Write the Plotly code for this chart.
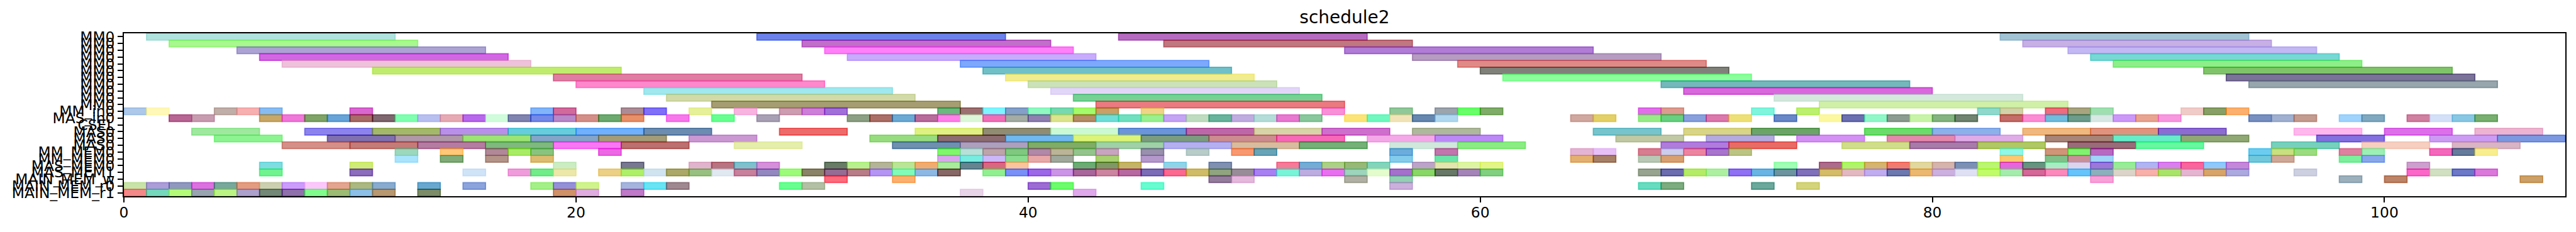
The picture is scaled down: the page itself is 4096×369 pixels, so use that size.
import plotly.graph_objects as go

title_text = "schedule2"
row_labels = ["MM0"] * 11 + ["MM_in0", "MAS_in0", "CSEL", "MAS0", "MAS0", "MAS0",
              "MM_MEM0", "MM_MEM0", "MAS_MEM0", "MAS_MEM1",
              "MAIN_MEM_w", "MAIN_MEM_r0", "MAIN_MEM_r1"]
row_durations = [11] * 11 + [1, 1, 1, 3, 3, 3, 1, 1, 1, 1, 1, 1, 1]
x_ticks = [0, 20, 40, 60, 80, 100]
x_limit = 108

starts_00 = [1, 28, 44, 83]
colors_00 = ["#b0e2de", "#6c82ea", "#b56cc0", "#a2c3d4"]
starts_01 = [2, 30, 46, 84]
colors_01 = ["#a8f78f", "#c070c8", "#c07880", "#c6b0e4"]
starts_02 = [5, 31, 54, 86]
colors_02 = ["#aca3d4", "#ff80f8", "#b07cd6", "#c3b8f4"]
starts_03 = [6, 32, 57, 87]
colors_03 = ["#d168e2", "#c8acfc", "#b59cc0", "#78d8d4"]
starts_04 = [7, 37, 59, 88]
colors_04 = ["#eec2da", "#7ea8fc", "#e08a88", "#8eee8a"]
starts_05 = [11, 38, 60, 92]
colors_05 = ["#c0ec6e", "#70c0c8", "#80827a", "#80c46a"]
starts_06 = [19, 39, 61, 93]
colors_06 = ["#de7ea2", "#f2ec90", "#8cff9c", "#7c7398"]
starts_07 = [20, 40, 68, 94]
colors_07 = ["#ff88cc", "#cbe2b8", "#74b8bc", "#96a6ac"]
starts_08 = [23, 41, 69]
colors_08 = ["#a0e8ee", "#e2d6f8", "#d868dc"]
starts_09 = [24, 42, 73]
colors_09 = ["#d2daaa", "#76d294", "#d4e8de"]
starts_10 = [26, 43, 75]
colors_10 = ["#a69e72", "#ea7a80", "#d0f0a8"]

starts_11 = [0, 1, 4, 5, 6, 10, 18, 19, 22, 23, 25, 27, 29, 30, 31, 36, 37, 38, 39, 40, 41, 42, 43, 45,
             53, 56, 58, 59, 60, 67, 68, 72, 74, 82, 83, 85, 86, 87, 91, 92, 93]
colors_11 = ["#adc8e8", "#fff8b8", "#c0aea8", "#f6b0b0", "#88bcf0", "#d868d0", "#82b4fa", "#d06a9c",
             "#ab8c96", "#8070f8", "#e6f09a", "#f8b4e0", "#cc9cb0", "#cc80d8", "#a070d8", "#6cb880",
             "#9c7070", "#80f4ff", "#84a0c8", "#90f8c0", "#78d8b0", "#a4fa6c", "#c8a068", "#eed488",
             "#f890d8", "#90c89a", "#9ca4ac", "#6aff6a", "#80ac6a", "#e070e8", "#dc9c90", "#80f4dc",
             "#bcf070", "#90d8cc", "#d2d2aa", "#ec6c80", "#a8a480", "#a0e0b0", "#f0ccc8", "#88a068",
             "#fcb070"]

starts_12 = [2, 3, 6, 7, 8, 9, 10, 11, 12, 13, 14, 15, 16, 17, 18, 19, 20, 21, 22, 24, 26, 28,
             32, 33, 34, 35, 36, 37, 38, 39, 40, 41, 42, 43, 44, 45, 46, 47, 48, 49, 50,
             51, 52, 54, 55, 56, 57, 58, 64, 65, 67, 68, 69, 70, 71, 73, 75, 76, 77, 78, 79, 80, 81,
             83, 84, 85, 86, 87, 88, 89, 90, 94, 95, 96, 98, 99, 101, 102, 103, 104]
colors_12 = ["#b86494", "#c89cb0", "#c8a868", "#ef78d8", "#80a468", "#68a4d8", "#a86c68", "#806870",
             "#80ffb0", "#b8c0f0", "#e6aab4", "#b868ec", "#d0fcdc", "#8084b0", "#7488e8", "#b888c8",
             "#d49088", "#6caa70", "#e89068", "#f878ec", "#68ff90", "#a8a0b4",
             "#8ca084", "#aa7068", "#6caad4", "#b86c9c", "#ff80e8", "#dcf8d8", "#f070b8", "#a4aca4",
             "#9080b0", "#dce48c", "#b48c58", "#70ded8", "#70e0c0", "#98f090", "#c4a4f4", "#c0dcc0",
             "#68b49c", "#c0ace0", "#b4dcd8",
             "#e878d0", "#88c89c", "#fce478", "#70f8c0", "#f2e4b8", "#6488b0", "#b0d8f0", "#d0a8a0",
             "#e4d068", "#98ec88", "#68d080", "#88a0dc", "#dc78ac", "#eee078", "#6888c8", "#fcf8a0",
             "#6c70b0", "#90f8c8", "#8c9c90", "#c8f4a8", "#84b480", "#708470",
             "#c46c68", "#fc8cd4", "#70bcdc", "#6c9c8c", "#d8e8e4", "#cc98f8", "#e8a490", "#f898e0",
             "#7890c0", "#a0b0d0", "#c49c90", "#a0d4fc", "#80a8c0", "#d080a0", "#d4e0f8", "#88c8e4",
             "#78b070"]

starts_13 = []
colors_13 = []

starts_14 = [3, 8, 11, 14, 17, 20, 23, 29, 35, 38, 41, 44, 47, 50, 53, 57, 65, 69, 72, 77, 80, 84, 87,
             90, 96, 100, 104]
colors_14 = ["#a0e8a0", "#8c84ec", "#a4b86c", "#b890e8", "#68ccdc", "#70b0fc", "#6c8cb0", "#ec6c6c",
             "#e0f084", "#908c74", "#ccf8d4", "#6c94d8", "#bc68a8", "#d6d4a8", "#cc70cc", "#aeb89c",
             "#78c4cc", "#d8d488", "#6ca468", "#6cdc6c", "#8cb0e8", "#eeb880", "#e09480", "#8c6cd0",
             "#ffb8ec", "#dc70e8", "#ecb4d0"]

starts_15 = [4, 9, 12, 15, 18, 21, 25, 33, 36, 39, 42, 45, 48, 51, 55, 58, 66, 70, 74, 78, 81, 85, 88,
             91, 97, 102, 105]
colors_15 = ["#8cf490", "#8070b0", "#b098a8", "#9ce474", "#84a4c8", "#a49c78", "#cc98d4", "#98dc80",
             "#8c6c70", "#70b8f0", "#dcf478", "#7c9c80", "#cc8c90", "#f868b8", "#f4a8e8", "#bc88f8",
             "#c0c8a4", "#b4aae0", "#d490f4", "#e488ac", "#e0ace8", "#a88478", "#60ecc8", "#90a874",
             "#8470e0", "#cc9cf4", "#7c98e0"]

starts_16 = [7, 10, 13, 16, 19, 22, 27, 34, 37, 40, 43, 46, 49, 52, 56, 59, 68, 71, 76, 79, 82, 86,
             89, 95, 99, 103]
colors_16 = ["#d49088", "#c47c78", "#b47ca0", "#80b880", "#f878f4", "#bc7070", "#e6eeac", "#7090b0",
             "#aca0bc", "#80ac68", "#a0d0a8", "#b4b0f0", "#d8bca0", "#74b078", "#d0e8dc", "#8cec84",
             "#b07cdc", "#e86c60", "#d0de8c", "#a87ca8", "#b0c864", "#986c78", "#68f8a0", "#78d0bc",
             "#f6cfc0", "#d8b4c4"]

starts_17 = [12, 14, 16, 17, 18, 21, 36, 37, 38, 39, 40, 41, 42, 43, 45, 47, 49, 50, 56, 58, 64, 65,
             67, 68, 69, 70, 71, 83, 85, 86, 87, 94, 95, 96, 98, 99, 102, 103, 104]
colors_17 = ["#9cd8bc", "#ffc878", "#b08898", "#a8ec60", "#88c480", "#ec68e4", "#80f86c", "#b8e0d8",
             "#bca4a8", "#80c880", "#b088a8", "#bcb498", "#94c48c", "#c8a4c0", "#9890ac", "#b8ccc8",
             "#f89870", "#68a4b8", "#6cacdc", "#c474ac", "#e4b4d4", "#e8c0f8", "#d87c90", "#ccccec",
             "#ec84a0", "#a874cc", "#bcc484", "#90f8e8", "#d09478", "#80f470", "#b868c0", "#6cccf0",
             "#c8e080", "#9cdc80", "#e080a0", "#9cf0b4", "#f468bc", "#647c9c", "#f8ee90"]

starts_18 = [12, 14, 16, 18, 36, 37, 38, 39, 40, 41, 43, 45, 56, 58, 64, 65, 67, 68, 83, 85, 86, 87,
             94, 95, 98, 99]
colors_18 = ["#a8e4fc", "#80ac78", "#b49488", "#dcbc70", "#d8a8ec", "#78ece0", "#ccb8f8", "#8cdc90",
             "#e8a8a8", "#a0a89c", "#a8d070", "#b498cc", "#84ccec", "#6ce4a8", "#e4b070", "#a88068",
             "#b8c8b4", "#d8a070", "#fcc870", "#80c088", "#c89098", "#a0d4f8", "#70c8dc", "#d0a898",
             "#7cf09c", "#88a8ec"]

starts_19 = [6, 10, 19, 22, 25, 26, 27, 28, 31, 32, 33, 34, 35, 36, 37, 38, 39, 42, 43, 44, 46, 48,
             51, 52, 53, 54, 55, 57, 58, 59, 60, 73, 75, 76, 77, 78, 79, 80, 81, 82, 83, 84, 85, 86,
             87, 88, 89, 90, 91, 92, 93, 101]
colors_19 = ["#80dce0", "#d0ec78", "#ccecc4", "#787890", "#e0b4cc", "#b87480", "#80c0cc", "#d490d8",
             "#687c64", "#b8f090", "#b4b498", "#bce498", "#f0ac70", "#a8ec9c", "#5c8490", "#d86880",
             "#fcc49c", "#6cac74", "#80985c", "#c4b468", "#90d4e8", "#8090b0", "#f47c98", "#74acd4",
             "#acd088", "#98b878", "#84d4bc", "#bca4c8", "#e4e4b0", "#dcf4a4", "#e4f488", "#a0ffb4",
             "#ac6c8c", "#b0f46c", "#d4b470", "#f07c70", "#e0d8a0", "#d4b4ac", "#7c90b4", "#bcf474",
             "#e468dc", "#649480", "#a8ecc4", "#dcd4ec", "#9c78d8", "#98ec98", "#b0b4f0", "#d880ec",
             "#f8649c", "#90c8fc", "#c488d8", "#cca0cc"]

starts_20 = [6, 10, 15, 17, 18, 19, 21, 22, 23, 24, 25, 26, 27, 28, 29, 30, 31, 32, 33, 34, 35, 36,
             38, 39, 40, 41, 42, 43, 44, 45, 46, 47, 48, 49, 50, 51, 52, 53, 54, 55, 56, 57, 58, 59,
             60, 67, 68, 69, 70, 71, 72, 73, 74, 75, 76, 77, 78, 79, 80, 81, 82, 83, 84, 85, 86, 87,
             88, 89, 90, 91, 92, 93, 96, 101, 102, 103, 104]
colors_20 = ["#70f490", "#8c6cbc", "#d0e4f8", "#f09cdc", "#70ec88", "#ece8a8", "#ecd084", "#aef068",
             "#d0e4f0", "#aca868", "#98c080", "#e0e8f0", "#c8809c", "#9488c0", "#9cfc78", "#8c8468",
             "#946c94", "#b87c88", "#b494f4", "#80fcb8", "#8cb8e4", "#886860", "#90f090", "#7890f8",
             "#9c68e8", "#cc94e8", "#a8649c", "#cc84a0", "#b868a0", "#7c6cb8", "#fc6890", "#d0bc60",
             "#90a480", "#988c98", "#a880f4", "#78f4d8", "#bcace0", "#e870f0", "#9cd4bc", "#e4fccc",
             "#a470cc", "#88d864", "#687868", "#a484b8", "#80d080", "#98a490", "#6c6cb0", "#b4ec60",
             "#acf0a0", "#9070f4", "#68b4e4", "#6c94a0", "#8070bc", "#d4bc68", "#e4b8c0", "#c0acf0",
             "#6c78b0", "#ecb870", "#ccb0e0", "#e0e0f4", "#c0fc68", "#a4ecac", "#d46498", "#fc88bc",
             "#64c4fc", "#8cb0bc", "#dcd4c8", "#f8b0a8", "#a8e468", "#e4b4d0", "#d8a468", "#aca8e0",
             "#ccd0e0", "#fc60c8", "#d0e0c0", "#6c78c8", "#dc78dc"]

starts_21 = [31, 34, 48, 49, 54, 56, 87, 98, 100, 106]
colors_21 = ["#fc6c7c", "#fcb070", "#947c9c", "#e4b8dc", "#b0b0a4", "#94d0b4", "#f8a0d8", "#9cb0bc",
             "#bc8468", "#cca068"]

starts_22 = [0, 1, 2, 3, 4, 5, 6, 7, 8, 9, 10, 11, 13, 15, 18, 19, 20, 22, 23, 24, 29, 30, 40, 41, 45,
             56, 67, 68, 72, 74]
colors_22 = ["#c8e4a8", "#ac9cd8", "#9098c0", "#dc70e0", "#78a89c", "#e49c80", "#ccd0b0", "#cc9cfc",
             "#fcc8fc", "#e4a490", "#acb880", "#88acd0", "#68a8d0", "#8ca4dc", "#a4f088", "#9490d8",
             "#d0f48c", "#a4b4dc", "#68e4f4", "#a08890", "#68ff90", "#b4c0a4", "#9c6cd4", "#6cfc6c",
             "#68fcd0", "#ccb0dc", "#68dcc0", "#7cac80", "#6ca89c", "#d4d47c"]

starts_23 = [0, 1, 2, 3, 4, 5, 6, 7, 8, 9, 10, 11, 13, 19, 20, 22, 37, 42]
colors_23 = ["#f48888", "#74d8bc", "#b4fc78", "#98a4b0", "#bcf484", "#aca0cc", "#748878", "#9070ac",
             "#80fc8c", "#9cbc74", "#8cc0e8", "#b89870", "#7c8c68", "#d09068", "#e0ace0", "#c078c8",
             "#e8d4e8", "#e0a8ec"]

row_starts = [starts_00, starts_01, starts_02, starts_03, starts_04, starts_05, starts_06, starts_07,
              starts_08, starts_09, starts_10, starts_11, starts_12, starts_13, starts_14, starts_15,
              starts_16, starts_17, starts_18, starts_19, starts_20, starts_21, starts_22, starts_23]
row_colors = [colors_00, colors_01, colors_02, colors_03, colors_04, colors_05, colors_06, colors_07,
              colors_08, colors_09, colors_10, colors_11, colors_12, colors_13, colors_14, colors_15,
              colors_16, colors_17, colors_18, colors_19, colors_20, colors_21, colors_22, colors_23]

ALPHA = 0.6


def source_rgba(seen):
    """The listed colours are as seen over white; undo the bar transparency."""
    channels = [int(seen[i:i + 2], 16) for i in (1, 3, 5)]
    raw = [max(0, min(255, round((c - (1 - ALPHA) * 255) / ALPHA))) for c in channels]
    return f"rgba({raw[0]},{raw[1]},{raw[2]},{ALPHA})"


ys, bases, lengths, fills = [], [], [], []
for row, (starts, colors) in enumerate(zip(row_starts, row_colors)):
    for start, color in zip(starts, colors):
        ys.append(row)
        bases.append(start)
        lengths.append(row_durations[row])
        fills.append(source_rgba(color))

fig = go.Figure(go.Bar(
    orientation="h", y=ys, x=lengths, base=bases, width=1,
    marker=dict(color=fills, line=dict(color=fills, width=1.7)),
    hoverinfo="skip",
))

axis_style = dict(
    showgrid=False, zeroline=False, showline=True, mirror=True, linecolor="black",
    linewidth=1.7, ticks="outside", ticklen=8, tickwidth=1.7, tickcolor="black",
    tickfont=dict(family="DejaVu Sans", size=23.4, color="black"),
)
fig.update_layout(
    width=4096, height=369, autosize=False, barmode="overlay", showlegend=False,
    paper_bgcolor="white", plot_bgcolor="white",
    margin=dict(l=197, r=17, t=52.6, b=57, autoexpand=False),
    title=dict(text=title_text, x=0.5, xref="paper", xanchor="center",
               y=1 - 27.4 / 369, yref="container", yanchor="middle",
               font=dict(family="DejaVu Sans", size=28, color="black")),
    xaxis=dict(range=[0, x_limit], tickmode="array", tickvals=x_ticks,
               ticktext=[str(t) for t in x_ticks], ticklabelstandoff=-4, **axis_style),
    yaxis=dict(range=[len(row_labels) - 0.5, -0.5], tickmode="array",
               tickvals=list(range(len(row_labels))), ticktext=row_labels, **axis_style),
)
fig.write_html("out.html", config={"displayModeBar": False},
               post_script="document.body.style.margin='0';document.documentElement.style.overflow='hidden';")
